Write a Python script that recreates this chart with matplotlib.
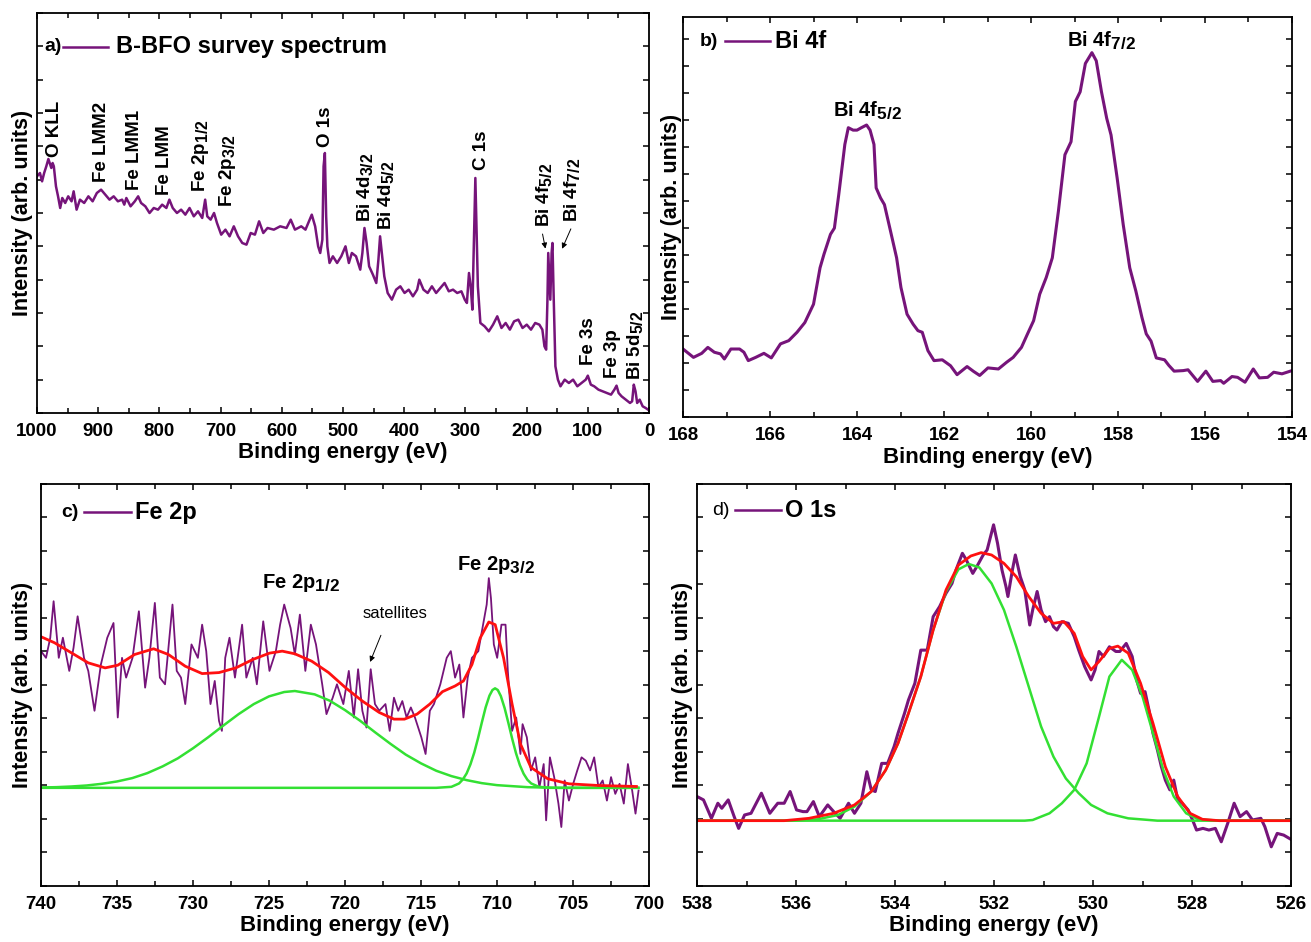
import matplotlib
matplotlib.use('Agg')
import matplotlib.pyplot as plt
import matplotlib._mathtext as _mt
from matplotlib.ticker import MultipleLocator

_mt.SHRINK_FACTOR = 0.85

plt.rcParams['font.family'] = ['Liberation Sans', 'DejaVu Sans']
plt.rcParams['font.weight'] = 'bold'
plt.rcParams['mathtext.fontset'] = 'custom'
plt.rcParams['mathtext.rm'] = 'Liberation Sans:bold'
plt.rcParams['mathtext.bf'] = 'Liberation Sans:bold'
plt.rcParams['mathtext.it'] = 'Liberation Sans:bold:italic'
plt.rcParams['mathtext.default'] = 'rm'

PURPLE = '#76147a'
RED = '#ff1010'
GREEN = '#33e033'

# ---------------- (a) survey spectrum ----------------
survey_E = [1000, 995.2, 991.7, 988.3, 984.8, 981.4, 979.3, 976.6, 974.5, 972.5, 969.0, 965.6, 962.1, 958.7,
            953.9, 949.0, 943.5, 940.1, 935.3, 929.8, 922.9, 916.0, 909.1, 902.2, 895.3, 888.4, 881.5, 874.7,
            867.8, 860.9, 857.4, 854.0, 847.1, 840.2, 834.7, 829.9, 823.0, 816.1, 809.2, 802.3, 795.5, 788.6,
            783.7, 778.2, 771.3, 764.5, 757.6, 750.7, 743.8, 736.9, 730.0, 725.2, 721.8, 716.3, 710.7, 705.9,
            699.0, 692.1, 685.3, 678.4, 671.5, 664.6, 657.7, 650.8, 643.9, 637.1, 630.2, 623.3, 613.0, 602.6,
            592.3, 585.4, 578.5, 568.2, 561.3, 554.4, 551.0, 545.5, 540.6, 537.2, 533.7, 531.7, 529.6, 527.5,
            525.5, 522.0, 516.5, 509.6, 502.8, 495.9, 490.4, 485.5, 478.7, 471.8, 468.3, 464.9, 461.4, 457.3,
            451.1, 445.6, 442.1, 439.4, 436.6, 432.5, 427.0, 420.1, 413.2, 406.3, 399.4, 392.6, 385.7, 378.8,
            375.3, 368.5, 361.6, 354.7, 347.8, 340.9, 334.0, 327.1, 320.2, 313.4, 306.5, 301.0, 297.5, 294.1,
            291.3, 288.6, 285.8, 283.7, 281.7, 279.6, 275.5, 268.6, 261.7, 254.8, 247.9, 241.0, 234.2, 227.3,
            220.4, 213.5, 206.6, 199.7, 192.8, 185.9, 179.1, 174.2, 170.8, 168.0, 165.9, 164.6, 162.5, 161.2,
            159.1, 157.7, 155.6, 152.9, 148.8, 144.6, 137.7, 130.9, 124.0, 117.1, 110.2, 103.3, 99.9, 95.0,
            89.5, 82.6, 75.8, 68.9, 62.0, 56.5, 53.0, 49.6, 44.8, 37.9, 31.0, 27.5, 24.8, 22.0, 19.3, 15.2,
            10.3, 5.5, 0.0]
survey_I = [7.10, 7.20, 6.95, 7.20, 7.40, 7.62, 7.50, 7.35, 7.50, 7.40, 6.80, 6.50, 6.15, 6.45,
            6.30, 6.50, 6.35, 6.65, 6.10, 6.40, 6.30, 6.50, 6.35, 6.60, 6.70, 6.55, 6.40, 6.50,
            6.35, 6.40, 6.25, 6.45, 6.20, 6.35, 6.50, 6.30, 6.20, 6.00, 6.15, 6.10, 6.25, 6.15,
            6.40, 6.15, 6.00, 6.10, 5.95, 6.15, 5.90, 6.05, 5.85, 6.40, 5.90, 5.80, 6.00, 5.70,
            5.35, 5.50, 5.30, 5.60, 5.30, 5.10, 5.05, 5.40, 5.35, 5.75, 5.40, 5.55, 5.50, 5.60,
            5.55, 5.80, 5.50, 5.60, 5.50, 5.80, 5.95, 5.60, 5.00, 4.80, 5.20, 7.40, 7.80, 5.90,
            5.00, 4.50, 4.70, 4.50, 4.70, 5.00, 4.50, 4.80, 4.70, 4.30, 4.80, 5.55, 5.10, 4.40,
            4.15, 3.90, 4.60, 5.30, 4.80, 4.10, 3.60, 3.40, 3.70, 3.80, 3.60, 3.70, 3.50, 3.70,
            4.00, 3.70, 3.60, 3.80, 3.60, 3.75, 3.90, 3.65, 3.70, 3.60, 3.65, 3.40, 3.30, 4.20,
            3.80, 3.10, 5.40, 7.05, 5.40, 3.80, 2.70, 2.60, 2.45, 2.65, 2.90, 2.55, 2.70, 2.50,
            2.75, 2.80, 2.55, 2.65, 2.50, 2.70, 2.65, 2.50, 2.00, 1.90, 3.40, 4.80, 3.90, 3.40,
            4.80, 5.10, 3.40, 1.40, 1.00, 0.80, 1.00, 0.90, 1.00, 0.80, 0.90, 1.00, 1.12, 0.85,
            0.80, 0.70, 0.65, 0.60, 0.55, 0.70, 0.82, 0.60, 0.50, 0.40, 0.30, 0.35, 0.85, 0.65, 0.30, 0.40,
            0.20, 0.15, 0.08]

survey_labels = ['O KLL', 'Fe LMM2', 'Fe LMM1', 'Fe LMM', r'Fe 2p$_{1/2}$', r'Fe 2p$_{3/2}$', 'O 1s',
                 r'Bi 4d$_{3/2}$', r'Bi 4d$_{5/2}$', 'C 1s', r'Bi 4f$_{5/2}$', r'Bi 4f$_{7/2}$',
                 'Fe 3s', 'Fe 3p', r'Bi 5d$_{5/2}$']
survey_label_E = [970.6, 895.4, 840, 791, 733, 688, 529, 464, 430, 274, 171, 126, 98, 60, 23]
survey_label_I = [7.68, 6.93, 6.69, 6.54, 6.63, 6.18, 7.98, 5.73, 5.49, 7.29, 5.58, 5.73, 1.44, 1.05, 0.99]

# ---------------- (b) Bi 4f ----------------
bi_E = [168.0, 167.76, 167.57, 167.43, 167.28, 167.14, 167.05, 166.9, 166.7, 166.6, 166.5, 166.33, 166.14,
        165.97, 165.76, 165.57, 165.38, 165.2, 165.0, 164.85, 164.76, 164.61, 164.52, 164.42, 164.28, 164.2,
        164.09, 164.0, 163.9, 163.78, 163.7, 163.61, 163.56, 163.46, 163.37, 163.23, 163.09, 162.99, 162.85,
        162.71, 162.6, 162.5, 162.37, 162.23, 162.04, 161.85, 161.7, 161.47, 161.32, 161.18, 160.99, 160.75,
        160.56, 160.41, 160.22, 160.08, 159.94, 159.8, 159.65, 159.51, 159.37, 159.22, 159.08, 158.98, 158.87,
        158.75, 158.6, 158.5, 158.38, 158.26, 158.16, 158.02, 157.88, 157.73, 157.59, 157.45, 157.35, 157.24,
        157.12, 156.93, 156.83, 156.71, 156.5, 156.39, 156.17, 155.98, 155.82, 155.64, 155.57, 155.38, 155.25,
        155.08, 154.89, 154.75, 154.56, 154.42, 154.23, 154.0]
bi_I = [2.52, 2.21, 2.36, 2.58, 2.40, 2.34, 2.15, 2.52, 2.52, 2.40, 2.09, 2.21, 2.36,
        2.19, 2.71, 2.83, 3.14, 3.50, 4.18, 5.53, 6.03, 6.77, 7.00, 8.24, 10.10, 10.72,
        10.63, 10.63, 10.72, 10.82, 10.63, 10.10, 8.49, 8.12, 7.87, 6.89, 5.90, 4.80, 3.81,
        3.44, 3.20, 3.14, 2.46, 2.09, 2.12, 1.90, 1.57, 1.87, 1.69, 1.54, 1.82, 1.78,
        2.03, 2.21, 2.58, 3.08, 3.57, 4.55, 5.17, 5.90, 7.63, 9.72, 10.20, 11.69, 12.05,
        13.10, 13.50, 13.20, 12.05, 11.07, 10.45, 8.86, 7.13, 5.53, 4.67, 3.69, 3.08, 2.81,
        2.19, 2.12, 1.91, 1.70, 1.72, 1.75, 1.32, 1.70, 1.32, 1.35, 1.25, 1.50, 1.47,
        1.29, 1.78, 1.45, 1.47, 1.66, 1.60, 1.72]

# ---------------- (c) Fe 2p ----------------
fe_E = [740.00, 739.67, 739.39, 739.17, 738.83, 738.56, 738.14, 737.86, 737.59, 737.17, 736.89, 736.48,
        736.06, 735.64, 735.23, 734.95, 734.67, 734.40, 733.98, 733.56, 733.15, 732.87, 732.51, 732.18,
        731.84, 731.35, 731.07, 730.79, 730.51, 730.10, 729.68, 729.40, 729.13, 728.85, 728.57, 728.29,
        728.10, 727.88, 727.60, 727.24, 726.77, 726.49, 726.07, 725.80, 725.38, 724.97, 724.55, 724.27,
        724.00, 723.58, 723.30, 722.97, 722.61, 722.25, 721.91, 721.50, 721.22, 720.81, 720.53, 720.11,
        719.75, 719.42, 719.14, 718.86, 718.59, 718.31, 718.03, 717.75, 717.34, 717.06, 716.78, 716.50,
        716.23, 715.95, 715.67, 715.40, 714.98, 714.70, 714.42, 714.15, 713.73, 713.31, 713.04, 712.76,
        712.48, 712.21, 711.93, 711.65, 711.23, 710.96, 710.68, 710.54, 710.40, 710.21, 709.99, 709.71,
        709.44, 709.29, 709.01, 708.74, 708.46, 708.32, 708.04, 707.77, 707.49, 707.21, 706.93, 706.77,
        706.52, 706.24, 705.96, 705.77, 705.55, 705.27, 704.99, 704.72, 704.44, 704.16, 703.88, 703.61,
        703.33, 703.05, 702.77, 702.50, 702.22, 701.94, 701.66, 701.39, 701.11, 700.89, 700.69]
fe_I = [7.01, 6.81, 7.41, 8.50, 6.81, 7.41, 6.42, 7.11, 8.05, 6.81, 6.42, 5.23,
        6.61, 7.41, 7.85, 5.03, 6.81, 6.22, 6.81, 8.20, 5.92, 6.81, 8.45, 6.22,
        6.02, 8.40, 6.42, 6.22, 5.43, 7.21, 6.81, 7.80, 7.01, 5.43, 6.12, 4.93,
        4.63, 6.81, 7.41, 6.22, 7.80, 6.22, 6.81, 6.02, 7.90, 6.42, 7.01, 7.80,
        8.40, 7.70, 6.91, 8.10, 6.42, 7.80, 7.21, 6.02, 5.13, 5.62, 6.02, 5.43,
        6.42, 5.03, 6.47, 5.23, 4.73, 6.47, 5.43, 5.23, 5.43, 4.63, 5.62, 5.23,
        5.52, 5.03, 5.33, 5.03, 4.44, 3.94, 5.23, 5.43, 6.02, 6.81, 7.01, 6.22,
        6.61, 5.03, 6.22, 6.81, 7.01, 7.70, 8.40, 9.19, 8.59, 7.21, 6.81, 7.80,
        7.80, 6.42, 4.63, 5.03, 3.94, 4.83, 4.44, 3.45, 3.84, 2.95, 3.64, 1.96,
        3.84, 3.25, 2.46, 1.76, 3.15, 2.55, 3.05, 3.45, 3.84, 3.74, 3.45, 3.84,
        2.95, 3.15, 2.55, 3.25, 2.75, 3.05, 2.46, 3.64, 2.85, 2.16, 2.85]

fe_fit_E = [740.00, 739.11, 738.00, 736.89, 735.78, 734.95, 733.84, 732.59, 731.62, 730.51, 729.40, 728.29,
            727.18, 726.07, 724.97, 724.13, 723.30, 722.19, 721.08, 719.97, 718.86, 717.75, 716.78, 716.09,
            715.26, 714.42, 713.59, 712.76, 712.21, 711.65, 711.10, 710.54, 710.12, 709.57, 709.01, 708.46,
            707.77, 706.66, 705.27, 703.33, 700.83]
fe_fit_I = [7.44, 7.26, 6.96, 6.66, 6.51, 6.59, 6.91, 7.08, 6.91, 6.56, 6.34, 6.37,
            6.51, 6.76, 6.95, 7.01, 6.93, 6.71, 6.37, 5.92, 5.52, 5.18, 4.98, 4.98,
            5.13, 5.43, 5.80, 5.97, 6.12, 6.61, 7.41, 7.88, 7.80, 6.81, 5.43, 4.24,
            3.54, 3.20, 3.05, 3.00, 2.97]

fe_p1_E = [740.0, 739.0, 738.0, 737.0, 736.0, 735.0, 734.0, 733.0, 732.0, 731.0, 730.0, 729.0, 728.0,
           727.0, 726.0, 725.0, 724.0, 723.3, 722.0, 721.0, 720.0, 719.0, 718.0, 717.0, 716.0, 715.0,
           714.0, 713.0, 712.0, 711.0, 710.0, 709.0, 708.0, 707.0, 706.0, 700.7]
fe_p1_I = [2.94, 2.95, 2.97, 3.00, 3.05, 3.12, 3.22, 3.37, 3.57, 3.81, 4.11, 4.44, 4.79,
           5.13, 5.43, 5.66, 5.79, 5.82, 5.72, 5.53, 5.25, 4.93, 4.58, 4.24, 3.92, 3.66,
           3.44, 3.28, 3.16, 3.07, 3.01, 2.98, 2.95, 2.94, 2.93, 2.93]
fe_p2_E = [740.0, 714.0, 713.0, 712.5, 712.25, 712.0, 711.75, 711.5, 711.25, 711.0, 710.75, 710.5,
           710.3, 710.13, 709.95, 709.75, 709.5, 709.25, 709.0, 708.75, 708.5, 708.25, 708.0, 707.75,
           707.25, 706.5, 700.7]
fe_p2_I = [2.93, 2.93, 2.96, 3.06, 3.18, 3.36, 3.63, 3.98, 4.41, 4.88, 5.33, 5.68,
           5.85, 5.90, 5.85, 5.67, 5.31, 4.86, 4.39, 3.96, 3.61, 3.35, 3.17, 3.06,
           2.96, 2.93, 2.93]

# ---------------- (d) O 1s ----------------
o_E = [538.00, 537.87, 537.71, 537.58, 537.50, 537.37, 537.25, 537.16, 537.04, 536.91, 536.70, 536.53,
       536.37, 536.24, 536.12, 535.99, 535.86, 535.78, 535.65, 535.53, 535.36, 535.24, 535.11, 534.94,
       534.82, 534.69, 534.57, 534.48, 534.40, 534.27, 534.15, 534.02, 533.94, 533.81, 533.73, 533.60,
       533.48, 533.35, 533.23, 533.10, 532.97, 532.85, 532.77, 532.64, 532.56, 532.43, 532.35, 532.22,
       532.14, 532.01, 531.93, 531.84, 531.76, 531.72, 531.63, 531.57, 531.47, 531.38, 531.28, 531.22,
       531.13, 531.05, 530.96, 530.88, 530.80, 530.73, 530.63, 530.50, 530.38, 530.29, 530.17, 530.04,
       529.96, 529.88, 529.79, 529.67, 529.54, 529.46, 529.33, 529.21, 529.12, 529.04, 528.95, 528.87,
       528.79, 528.70, 528.62, 528.54, 528.45, 528.37, 528.29, 528.20, 528.08, 527.99, 527.91, 527.78,
       527.66, 527.53, 527.41, 527.28, 527.15, 527.03, 526.90, 526.78, 526.61, 526.53, 526.40, 526.28,
       526.15, 526.00]
o_I = [2.67, 2.57, 2.02, 2.47, 2.32, 2.57, 2.07, 1.72, 2.12, 2.17, 2.77, 2.17,
       2.47, 2.47, 2.82, 2.27, 2.22, 2.22, 2.52, 2.07, 2.42, 2.22, 2.02, 2.47,
       2.17, 2.47, 3.41, 2.87, 2.82, 3.66, 3.66, 4.16, 4.56, 5.15, 5.55, 6.05,
       7.04, 7.04, 8.04, 8.34, 8.74, 9.03, 9.43, 9.93, 9.73, 9.33, 9.53, 9.88,
       10.03, 10.78, 10.23, 9.43, 8.94, 8.64, 9.43, 9.88, 9.23, 8.84, 7.79, 8.24,
       8.79, 8.24, 7.89, 8.04, 7.74, 7.64, 7.89, 7.84, 7.44, 7.04, 6.55, 6.15,
       6.45, 7.00, 6.85, 7.14, 7.00, 7.00, 7.24, 6.85, 6.15, 5.75, 5.80, 5.25,
       4.56, 4.06, 3.56, 3.16, 2.87, 3.16, 2.57, 2.47, 2.27, 1.97, 1.67, 1.72,
       1.67, 1.72, 1.32, 1.87, 2.47, 2.07, 2.22, 1.97, 2.02, 1.77, 1.17, 1.57,
       1.52, 1.39]

o_fit_E = [538.00, 536.24, 535.74, 535.24, 534.82, 534.48, 534.19, 533.94, 533.73, 533.48, 533.23, 532.97,
           532.72, 532.47, 532.26, 532.05, 531.80, 531.55, 531.30, 531.05, 530.80, 530.59, 530.38, 530.21,
           530.04, 529.88, 529.67, 529.50, 529.29, 529.04, 528.79, 528.54, 528.29, 528.04, 527.79, 527.45,
           526.00]
o_fit_I = [1.95, 1.95, 2.02, 2.17, 2.42, 2.82, 3.46, 4.26, 5.15, 6.25, 7.64, 8.84,
           9.58, 9.85, 9.95, 9.88, 9.63, 9.23, 8.64, 8.14, 7.84, 7.89, 7.54, 6.85,
           6.45, 6.70, 7.09, 7.16, 6.95, 6.05, 4.86, 3.56, 2.67, 2.17, 1.99, 1.95,
           1.95]

o_p1_E = [538.00, 536.07, 535.57, 535.15, 534.82, 534.48, 534.19, 533.94, 533.73, 533.48, 533.23, 532.97,
          532.72, 532.51, 532.30, 532.05, 531.80, 531.55, 531.30, 531.05, 530.80, 530.55, 530.29, 530.04,
          529.71, 529.29, 528.70, 526.00]
o_p1_I = [1.95, 1.95, 1.99, 2.12, 2.37, 2.82, 3.46, 4.26, 5.15, 6.25, 7.64, 8.79,
          9.45, 9.61, 9.51, 9.03, 8.24, 7.14, 5.95, 4.76, 3.86, 3.21, 2.77, 2.42,
          2.17, 2.02, 1.95, 1.95]
o_p2_E = [538.00, 531.38, 531.22, 530.88, 530.63, 530.38, 530.13, 529.88, 529.67, 529.42, 529.21, 529.00,
          528.79, 528.58, 528.37, 528.12, 527.87, 527.45, 526.00]
o_p2_I = [1.95, 1.95, 1.97, 2.17, 2.47, 2.87, 3.66, 5.05, 6.25, 6.75, 6.45, 5.65,
          4.56, 3.46, 2.67, 2.17, 1.99, 1.95, 1.95]

# ---------------- figure ----------------
fig = plt.figure(figsize=(13.11, 9.42), dpi=100)
ax_a = fig.add_axes([0.02822, 0.5616, 0.4668, 0.4246])
ax_b = fig.add_axes([0.5210, 0.5573, 0.4645, 0.4246])
ax_c = fig.add_axes([0.03127, 0.05945, 0.4638, 0.4268])
ax_d = fig.add_axes([0.5317, 0.05945, 0.4531, 0.4268])


def style(ax, xmaj, xmin, ylab_pad):
    for s in ax.spines.values():
        s.set_linewidth(1.3)
    ax.xaxis.set_major_locator(MultipleLocator(xmaj))
    ax.xaxis.set_minor_locator(MultipleLocator(xmin))
    ax.yaxis.set_major_locator(MultipleLocator(1))
    ax.tick_params(which='both', direction='in', top=True, right=True, labelleft=False, width=1.1)
    ax.tick_params(axis='x', which='major', length=4.5, labelsize=13.5, pad=7)
    ax.tick_params(axis='x', which='minor', length=3.5)
    ax.tick_params(axis='y', which='major', length=4)
    for t in ax.get_xticklabels():
        t.set_fontweight('bold')
    ax.set_xlabel('Binding energy (eV)', fontsize=16, fontweight='bold', labelpad=2)
    ax.set_ylabel('Intensity (arb. units)', fontsize=15.5, fontweight='bold', labelpad=ylab_pad)


def header(ax, tag, tag_x, l0, l1, text_x, y, text, tag_weight='bold'):
    ax.text(tag_x, y, tag, transform=ax.transAxes, fontsize=14, fontweight=tag_weight,
            ha='left', va='center')
    ax.plot([l0, l1], [y, y], transform=ax.transAxes, color=PURPLE, lw=1.8)
    ax.text(text_x, y, text, transform=ax.transAxes, fontsize=17, fontweight='bold',
            ha='left', va='center')


# (a)
ax_a.plot(survey_E, survey_I, color=PURPLE, lw=1.8)
ax_a.set_xlim(1000, 0)
ax_a.set_ylim(0, 12)
style(ax_a, 100, 50, 3)
for lab, e, i in zip(survey_labels, survey_label_E, survey_label_I):
    ax_a.text(e, i, lab, rotation=90, fontsize=13.5, fontweight='bold', ha='center', va='bottom')
ax_a.annotate('', xy=(168.3, 4.85), xytext=(174.8, 5.45),
              arrowprops=dict(arrowstyle='-|>', lw=0.7, color='k', mutation_scale=8))
ax_a.annotate('', xy=(143.8, 4.85), xytext=(125.8, 5.6),
              arrowprops=dict(arrowstyle='-|>', lw=0.7, color='k', mutation_scale=8))
header(ax_a, 'a)', 0.0114, 0.0425, 0.116, 0.129, 0.915, 'B-BFO survey spectrum')

# (b)
ax_b.plot(bi_E, bi_I, color=PURPLE, lw=2.2)
ax_b.set_xlim(168, 154)
ax_b.set_ylim(0, 14.82)
style(ax_b, 2, 1, 1)
ax_b.text(163.75, 11.13, r'Bi 4f$_{5/2}$', fontsize=14.5, fontweight='bold', ha='center', va='baseline')
ax_b.text(158.37, 13.71, r'Bi 4f$_{7/2}$', fontsize=14.5, fontweight='bold', ha='center', va='baseline')
header(ax_b, 'b)', 0.028, 0.069, 0.143, 0.151, 0.94, 'Bi 4f')

# (c)
ax_c.plot(fe_E, fe_I, color=PURPLE, lw=1.3)
ax_c.plot(fe_p1_E, fe_p1_I, color=GREEN, lw=1.8)
ax_c.plot(fe_p2_E, fe_p2_I, color=GREEN, lw=1.8)
ax_c.plot(fe_fit_E, fe_fit_I, color=RED, lw=2.0)
ax_c.set_xlim(740, 700)
ax_c.set_ylim(0, 12)
style(ax_c, 5, 2.5, 6)
ax_c.text(722.9, 8.9, r'Fe 2p$_{1/2}$', fontsize=14.5, fontweight='bold', ha='center', va='baseline')
ax_c.text(710.1, 9.43, r'Fe 2p$_{3/2}$', fontsize=14.5, fontweight='bold', ha='center', va='baseline')
ax_c.text(716.7, 8.12, 'satellites', fontsize=12, fontweight='normal', ha='center', va='center')
ax_c.annotate('', xy=(718.42, 6.61), xytext=(717.57, 7.56),
              arrowprops=dict(arrowstyle='-|>', lw=0.7, color='k', mutation_scale=8))
header(ax_c, 'c)', 0.033, 0.071, 0.148, 0.155, 0.93, 'Fe 2p')

# (d)
ax_d.plot(o_E, o_I, color=PURPLE, lw=2.2)
ax_d.plot(o_p1_E, o_p1_I, color=GREEN, lw=1.8)
ax_d.plot(o_p2_E, o_p2_I, color=GREEN, lw=1.8)
ax_d.plot(o_fit_E, o_fit_I, color=RED, lw=2.0)
ax_d.set_xlim(538, 526)
ax_d.set_ylim(0, 12)
style(ax_d, 2, 1, 3)
header(ax_d, 'd)', 0.025, 0.064, 0.141, 0.148, 0.935, 'O 1s', tag_weight='normal')

fig.savefig('out.png', dpi=100)
